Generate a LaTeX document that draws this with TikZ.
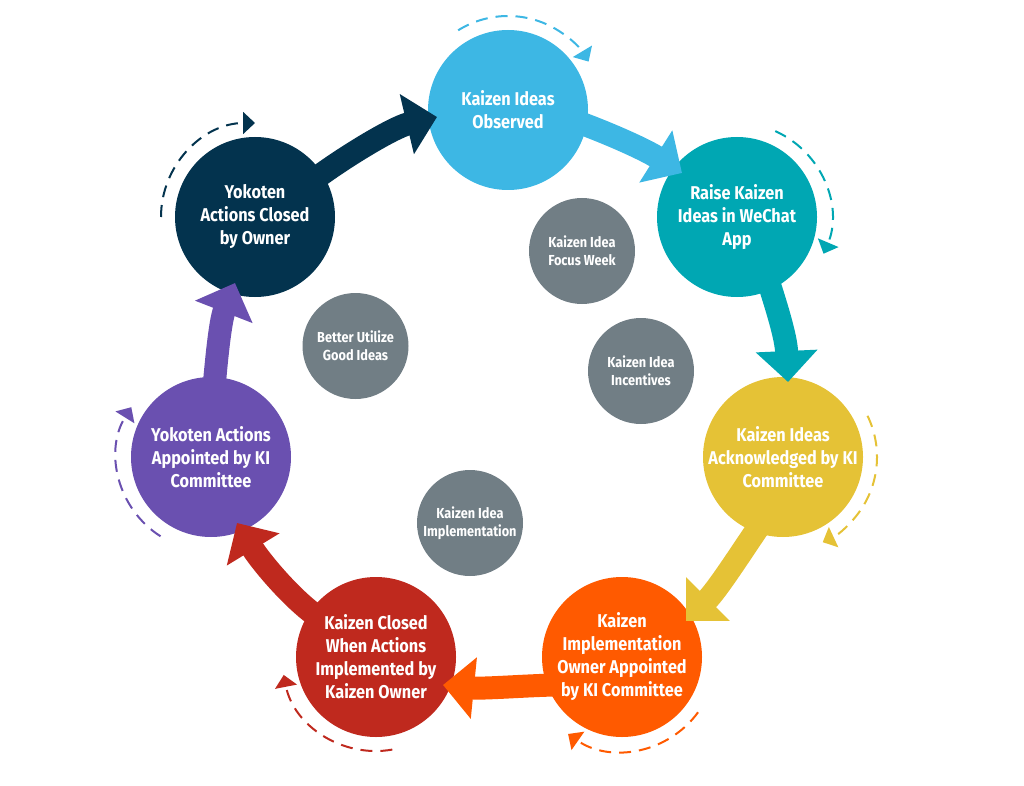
\documentclass[tikz,border=0pt]{standalone}
\usepackage{fontspec}
\setmainfont{Fira Sans}[FakeStretch=0.88]
\usetikzlibrary{arrows.meta,calc}
\definecolor{cblue}{HTML}{3DB7E4}
\definecolor{cteal}{HTML}{00A7B3}
\definecolor{cyellow}{HTML}{E5C236}
\definecolor{corange}{HTML}{FF5A00}
\definecolor{cred}{HTML}{BF291E}
\definecolor{cpurple}{HTML}{6A50B0}
\definecolor{cnavy}{HTML}{03334E}
\definecolor{cgray}{HTML}{717E85}
\tikzset{
  stagecircle/.style={circle, minimum size=160pt, inner sep=0pt, draw=none},
  stagetext/.style={text=white, align=center, inner sep=0pt, font=\fontsize{18.5}{23}\selectfont\bfseries},
  focuscircle/.style={circle, minimum size=106pt, inner sep=0pt, fill=cgray},
  focustext/.style={text=white, align=center, inner sep=0pt, font=\fontsize{14.5}{18}\selectfont\bfseries},
  bigarrow/.style={line width=23pt, -{Triangle[width=60pt,length=31pt]}},
  looparrow/.style={line width=2pt, dash pattern=on 12pt off 8pt, -{Triangle[width=22pt,length=12pt]}}
}
\begin{document}
\begin{tikzpicture}[x=1pt,y=1pt]
\useasboundingbox (0,0) rectangle (1024,-786);
% stage circles
\node[stagecircle, fill=cblue]   (n1) at (508,-110) {};
\node[stagecircle, fill=cteal]   (n2) at (737,-217) {};
\node[stagecircle, fill=cyellow] (n3) at (783,-457) {};
\node[stagecircle, fill=corange] (n4) at (622,-657) {};
\node[stagecircle, fill=cred]    (n5) at (376,-657) {};
\node[stagecircle, fill=cpurple] (n6) at (211,-457) {};
\node[stagecircle, fill=cnavy]   (n7) at (255,-217) {};
% focus circles
\node[focuscircle] (f1) at (582,-251) {};
\node[focuscircle] (f2) at (641,-371) {};
\node[focuscircle] (f3) at (355.5,-346) {};
\node[focuscircle] (f4) at (470,-523) {};
% big arrows
\draw[bigarrow, cblue] ($(n1.center)+(67,-11)$) .. controls ($(n1.center)+(100,-23)$) and ($(n2.center)+(-93,68)$) .. ($(n2.center)+(-55,44)$);
\draw[bigarrow, cteal] ($(n2.center)+(31,-63)$) .. controls ($(n2.center)+(40,-91.5)$) and ($(n3.center)+(3,120)$) .. ($(n3.center)+(5,75)$);
\draw[bigarrow, cyellow] ($(n3.center)+(-23,-68)$) .. controls ($(n3.center)+(-40,-92.6)$) and ($(n4.center)+(96,68)$) .. ($(n4.center)+(64,36)$);
\draw[bigarrow, corange] ($(n4.center)+(-67,-28)$) .. controls ($(n4.center)+(-97,-28.6)$) and ($(n5.center)+(107,-32)$) .. ($(n5.center)+(67,-28)$);
\draw[bigarrow, cred] ($(n5.center)+(-61,42)$) .. controls ($(n5.center)+(-88,62)$) and ($(n6.center)+(48,-102)$) .. ($(n6.center)+(26,-66)$);
\draw[bigarrow, cpurple] ($(n6.center)+(3,69)$) .. controls ($(n6.center)+(6,104)$) and ($(n7.center)+(-34.4,-103)$) .. ($(n7.center)+(-20,-66)$);
\draw[bigarrow, cnavy] ($(n7.center)+(60,38)$) .. controls ($(n7.center)+(88,59)$) and ($(n1.center)+(-115,-17.4)$) .. ($(n1.center)+(-71,-7)$);
% dashed loops
\draw[looparrow, cblue]   ($(n1.center)+(122:94)$) arc[start angle=122, end angle=31, radius=94];
\draw[looparrow, cteal]   ($(n2.center)+(66:94)$) arc[start angle=66, end angle=-23, radius=94];
\draw[looparrow, cyellow] ($(n3.center)+(26:94)$) arc[start angle=26, end angle=-65, radius=94];
\draw[looparrow, corange] ($(n4.center)+(-36:94)$) arc[start angle=-36, end angle=-125, radius=94];
\draw[looparrow, cred]    ($(n5.center)+(-80:94)$) arc[start angle=-80, end angle=-169, radius=94];
\draw[looparrow, cpurple] ($(n6.center)+(237.5:94)$) arc[start angle=237.5, end angle=148, radius=94];
\draw[looparrow, cnavy]   ($(n7.center)+(180:94)$) arc[start angle=180, end angle=90, radius=94];
% texts
\node[stagetext] at (n1.center) {Kaizen Ideas\\Observed};
\node[stagetext] at (n2.center) {Raise Kaizen\\Ideas in WeChat\\App};
\node[stagetext] at (n3.center) {Kaizen Ideas\\Acknowledged by KI\\Committee};
\node[stagetext] at (n4.center) {Kaizen\\Implementation\\Owner Appointed\\by KI Committee};
\node[stagetext] at (n5.center) {Kaizen Closed\\When Actions\\Implemented by\\Kaizen Owner};
\node[stagetext] at (n6.center) {Yokoten Actions\\Appointed by KI\\Committee};
\node[stagetext] at (n7.center) {Yokoten\\Actions Closed\\by Owner};
\node[focustext] at (f1.center) {Kaizen Idea\\Focus Week};
\node[focustext] at (f2.center) {Kaizen Idea\\Incentives};
\node[focustext] at (f3.center) {Better Utilize\\Good Ideas};
\node[focustext] at (f4.center) {Kaizen Idea\\Implementation};
\end{tikzpicture}
\end{document}
